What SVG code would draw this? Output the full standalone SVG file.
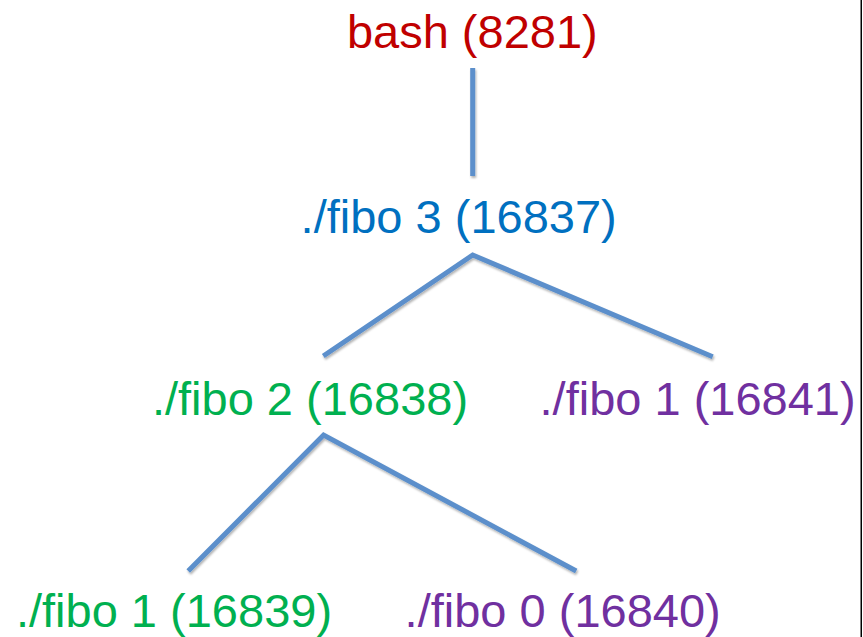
<svg xmlns="http://www.w3.org/2000/svg" width="863" height="637" viewBox="0 0 863 637">
<defs>
<filter id="sh" filterUnits="userSpaceOnUse" x="0" y="0" width="863" height="637">
<feDropShadow dx="1" dy="2" stdDeviation="1.3" flood-color="#000" flood-opacity="0.3"/>
</filter>
<style>
text{font-family:"Liberation Sans",Arial,sans-serif;font-size:47px;text-anchor:middle}
.red{fill:#C00000}.blue{fill:#0070C0}.green{fill:#00B050}.purple{fill:#7030A0}
.edge{stroke:#5B8FCB;stroke-width:5;fill:none;stroke-linecap:butt;filter:url(#sh)}
</style>
</defs>
<rect width="863" height="637" fill="#fff"/>
<g id="connectors">
<line class="edge" x1="472.7" y1="68" x2="472.7" y2="176"/>
<polyline class="edge" points="323.3,356 472.7,255 712.7,356.7"/>
<polyline class="edge" points="188.2,571 323.6,435 576.2,571"/>
</g>
<g id="bash"><text class="red" x="472.3" y="48">bash (8281)</text></g>
<g id="fibo3"><text class="blue" x="458.7" y="233">./fibo 3 (16837)</text></g>
<g id="fibo2"><text class="green" x="310" y="415">./fibo 2 (16838)</text></g>
<g id="fibo1a"><text class="purple" x="697.6" y="415">./fibo 1 (16841)</text></g>
<g id="fibo1b"><text class="green" x="174" y="627">./fibo 1 (16839)</text></g>
<g id="fibo0"><text class="purple" x="562.7" y="627">./fibo 0 (16840)</text></g>
<rect x="860.5" y="0" width="1.5" height="637" fill="#000"/>
</svg>
